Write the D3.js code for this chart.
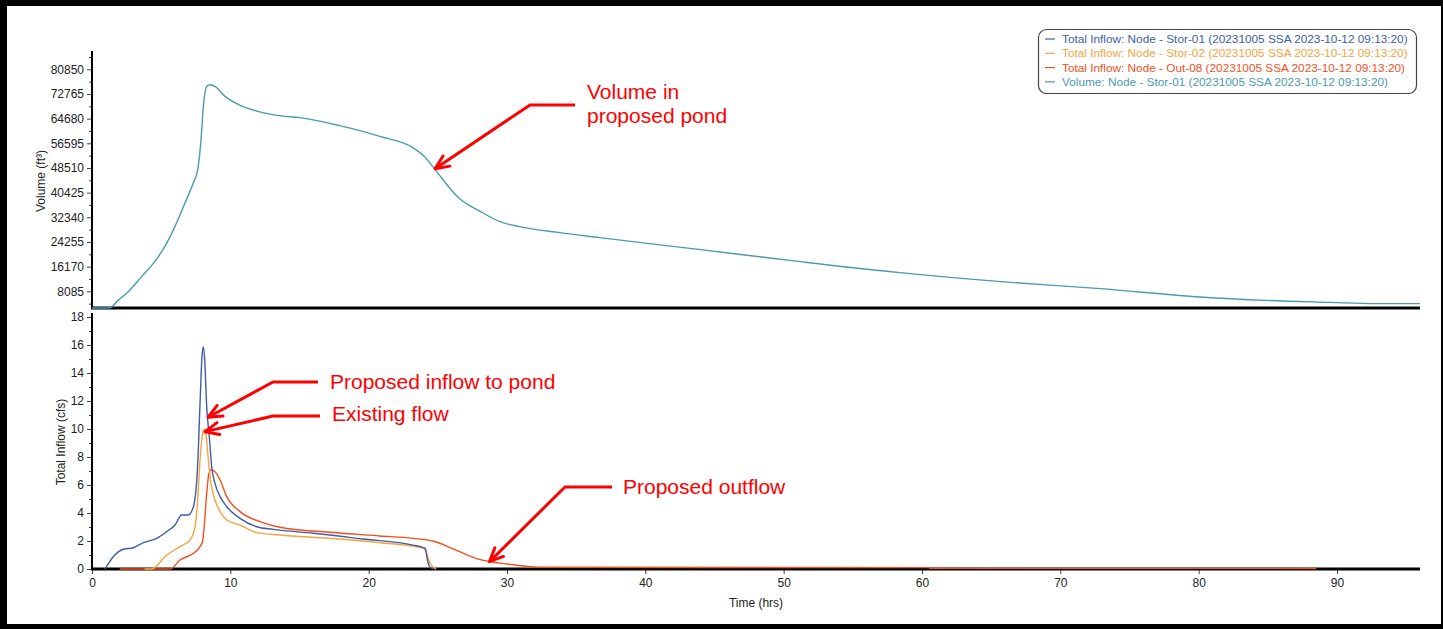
<!DOCTYPE html>
<html>
<head>
<meta charset="utf-8">
<script src="https://cdn.jsdelivr.net/npm/d3@7"></script>
<style>
  body { margin: 0; background: #fff; }
  svg text { font-family: Arial, "Liberation Sans", sans-serif; }
</style>
</head>
<body>
<svg id="chart" width="1443" height="629"></svg>
<script>
// ---- Data: [time (hrs), value] ----
const volumeStor01 = [
  [0, 0], [1.0, 1800], [1.3, 2700], [1.9, 5200], [2.6, 7870], [3.6, 12980], [4.55, 17900],
  [5.27, 22810], [6.0, 29370], [6.72, 37030], [7.32, 43590], [7.64, 47950], [7.88, 57780],
  [8.05, 68700], [8.29, 75250], [8.53, 75800], [8.89, 75250], [9.62, 71970], [10.6, 69250],
  [12.0, 67050], [13.95, 65420], [15.0, 65000], [17.9, 62370], [20.8, 58860], [23.2, 55160],
  [24.05, 52170], [24.8, 47950], [26.5, 38770], [28.1, 34180], [29.5, 30900], [30.9, 29270],
  [33.8, 27300], [36.7, 25660], [44.0, 21730], [51.2, 17800], [58.4, 14190], [65.7, 11240],
  [72.9, 8950], [80.1, 6230], [84.9, 5110], [89.5, 4460], [92.8, 4030], [96.0, 4030]
];

const inflowStor01 = [
  [0.94, 0], [1.54, 0.88], [2.27, 1.41], [2.99, 1.52], [3.71, 1.88], [4.68, 2.19], [5.4, 2.67],
  [6.0, 3.14], [6.48, 3.86], [6.96, 3.86], [7.33, 4.45], [7.62, 7.07], [7.81, 11.83],
  [7.95, 15.17], [8.05, 15.88], [8.15, 14.9], [8.29, 11.6], [8.48, 9.45], [8.65, 7.31],
  [8.89, 6.12], [9.26, 5.17], [9.74, 4.45], [10.7, 3.62], [11.9, 3.02], [13.1, 2.83],
  [16.0, 2.55], [19.6, 2.14], [23.2, 1.71], [24.1, 1.48], [24.2, 0.88], [24.4, 0.17], [24.7, 0]
];

const inflowStor02 = [
  [3.8, 0], [4.3, 0], [5.4, 1.0], [6.36, 1.6], [7.09, 2.07], [7.45, 3.02], [7.62, 4.69],
  [7.81, 7.79], [8.0, 9.69], [8.1, 9.98], [8.24, 9.57], [8.41, 7.79], [8.6, 6.12],
  [8.89, 4.93], [9.26, 4.1], [9.74, 3.5], [10.7, 3.14], [11.9, 2.6], [13.6, 2.43],
  [17.2, 2.19], [20.8, 1.88], [23.96, 1.48], [24.2, 1.11], [24.44, 0.4], [24.87, 0]
];

const inflowOut08 = [
  [2.0, 0], [5.64, 0], [6.36, 0.64], [7.33, 1.12], [7.81, 1.6], [8.0, 2.0], [8.15, 3.5],
  [8.3, 5.5], [8.45, 6.8], [8.6, 7.08], [8.89, 6.95], [9.26, 6.36], [9.74, 5.17],
  [10.7, 4.1], [12.15, 3.38], [13.6, 2.98], [17.2, 2.62], [20.8, 2.36], [23.2, 2.19],
  [24.7, 1.98], [26.2, 1.4], [27.8, 0.74], [28.8, 0.52], [30.0, 0.36], [31.2, 0.21],
  [32.5, 0.12], [60.5, 0.1], [60.6, 0.05], [88.5, 0.04]
];

const timeTicks = [0, 10, 20, 30, 40, 50, 60, 70, 80, 90];
const volumeTicks = [8085, 16170, 24255, 32340, 40425, 48510, 56595, 64680, 72765, 80850];
const flowTicks = [0, 2, 4, 6, 8, 10, 12, 14, 16, 18];

const legendEntries = [
  "Total Inflow: Node - Stor-01 (20231005 SSA 2023-10-12 09:13:20)",
  "Total Inflow: Node - Stor-02 (20231005 SSA 2023-10-12 09:13:20)",
  "Total Inflow: Node - Out-08 (20231005 SSA 2023-10-12 09:13:20)",
  "Volume: Node - Stor-01 (20231005 SSA 2023-10-12 09:13:20)"
];
const seriesColors = ["#3e5ea6", "#f6a33f", "#f2501c", "#4a9bb0"];

// ---- Layout ----
const svg = d3.select("#chart");
const W = 1443, H = 629;

// window frame
svg.append("rect").attr("width", W).attr("height", H).attr("fill", "#000");
svg.append("rect").attr("x", 7).attr("y", 6).attr("width", 1434).attr("height", 618).attr("fill", "#fff");

const x = d3.scaleLinear().domain([0, 96]).range([92, 1420]);
const yVol = d3.scaleLinear().domain([2611, 86520]).range([308, 52]).clamp(true);
const yFlow = d3.scaleLinear().domain([0, 18]).range([569, 317]);

const labelColor = "#222";

// ---- Axes ----
function styleAxis(g) {
  g.select(".domain").remove();
  g.selectAll(".tick line").attr("stroke", "#444").attr("stroke-width", 1);
  g.selectAll(".tick text").attr("fill", labelColor).attr("font-size", 12);
}

// volume axis (top panel)
const volMinor = volumeTicks.map(v => v - 8085 / 2).concat([80850 + 8085 / 2]);
svg.append("g").attr("transform", "translate(92,0)")
  .call(d3.axisLeft(yVol).tickValues(volMinor).tickSize(3).tickFormat(""))
  .call(styleAxis);
svg.append("g").attr("transform", "translate(92,0)")
  .call(d3.axisLeft(yVol).tickValues(volumeTicks).tickSize(5).tickPadding(3).tickFormat(d3.format("d")))
  .call(styleAxis);

// flow axis (bottom panel)
svg.append("g").attr("transform", "translate(92,0)")
  .call(d3.axisLeft(yFlow).tickValues(d3.range(1, 18, 2)).tickSize(3).tickFormat(""))
  .call(styleAxis);
svg.append("g").attr("transform", "translate(92,0)")
  .call(d3.axisLeft(yFlow).tickValues(flowTicks).tickSize(5).tickPadding(3))
  .call(styleAxis);

// time axis
svg.append("g").attr("transform", "translate(0,569)")
  .call(d3.axisBottom(x).tickValues(timeTicks).tickSize(5).tickPadding(4))
  .call(styleAxis);

// axis lines
svg.append("line").attr("x1", 92).attr("x2", 92).attr("y1", 51).attr("y2", 309)
  .attr("stroke", "#000").attr("stroke-width", 2);
svg.append("line").attr("x1", 92).attr("x2", 92).attr("y1", 313).attr("y2", 570)
  .attr("stroke", "#000").attr("stroke-width", 2);
svg.append("line").attr("x1", 91).attr("x2", x(96)).attr("y1", 308).attr("y2", 308)
  .attr("stroke", "#000").attr("stroke-width", 3);
svg.append("line").attr("x1", 91).attr("x2", x(96)).attr("y1", 569).attr("y2", 569)
  .attr("stroke", "#000").attr("stroke-width", 3);

// axis titles
svg.append("text").attr("transform", "translate(45,181) rotate(-90)")
  .attr("text-anchor", "middle").attr("font-size", 12).attr("fill", labelColor)
  .text("Volume (ft³)");
svg.append("text").attr("transform", "translate(65,442) rotate(-90)")
  .attr("text-anchor", "middle").attr("font-size", 12).attr("fill", labelColor)
  .text("Total Inflow (cfs)");
svg.append("text").attr("x", 756).attr("y", 607)
  .attr("text-anchor", "middle").attr("font-size", 12).attr("fill", labelColor)
  .text("Time (hrs)");

// ---- Series ----
const volLine = d3.line().curve(d3.curveMonotoneX).x(d => x(d[0])).y(d => yVol(d[1]));
const flowLine = d3.line().curve(d3.curveMonotoneX).x(d => x(d[0])).y(d => yFlow(d[1]));

svg.append("path").datum(volumeStor01).attr("d", volLine)
  .attr("fill", "none").attr("stroke", seriesColors[3]).attr("stroke-width", 1.4);

[[inflowOut08, seriesColors[2]], [inflowStor02, seriesColors[1]], [inflowStor01, seriesColors[0]]]
  .forEach(([data, color]) => {
    svg.append("path").datum(data).attr("d", flowLine)
      .attr("fill", "none").attr("stroke", color).attr("stroke-width", 1.4);
  });

// ---- Legend ----
const legend = svg.append("g");
legend.append("rect").attr("x", 1038.5).attr("y", 29.5).attr("width", 378).attr("height", 64)
  .attr("rx", 8).attr("fill", "#fff").attr("stroke", "#444").attr("stroke-width", 1.2);
legendEntries.forEach((label, i) => {
  const cy = 39 + i * 14.3;
  legend.append("line").attr("x1", 1045).attr("x2", 1055).attr("y1", cy).attr("y2", cy)
    .attr("stroke", seriesColors[i]).attr("stroke-width", 1.2);
  legend.append("text").attr("x", 1062).attr("y", cy + 4).attr("font-size", 11.8)
    .attr("fill", seriesColors[i]).text(label);
});

// ---- Callouts ----
const callouts = [
  { lines: ["Volume in", "proposed pond"], tip: [x(24.8), yVol(48270)], elbow: [530, 105], end: [575, 105], tx: 587, ty: 99 },
  { lines: ["Proposed inflow to pond"], tip: [x(8.39), yFlow(10.84)], elbow: [273, 382], end: [318, 382], tx: 330, ty: 389 },
  { lines: ["Existing flow"], tip: [x(8.17), yFlow(9.81)], elbow: [273, 416], end: [320, 416], tx: 332, ty: 421 },
  { lines: ["Proposed outflow"], tip: [x(28.73), yFlow(0.52)], elbow: [565, 487], end: [612, 487], tx: 623, ty: 494 }
];
const red = "#ff0000";
callouts.forEach(c => {
  svg.append("polyline")
    .attr("points", [c.end, c.elbow, c.tip].map(p => p.join(",")).join(" "))
    .attr("fill", "none").attr("stroke", red).attr("stroke-width", 3).attr("stroke-linejoin", "round");
  const ang = Math.atan2(c.elbow[1] - c.tip[1], c.elbow[0] - c.tip[0]);
  const len = 15, spread = 0.42;
  const a1 = [c.tip[0] + len * Math.cos(ang + spread), c.tip[1] + len * Math.sin(ang + spread)];
  const a2 = [c.tip[0] + len * Math.cos(ang - spread), c.tip[1] + len * Math.sin(ang - spread)];
  svg.append("polyline")
    .attr("points", [a1, c.tip, a2].map(p => p.join(",")).join(" "))
    .attr("fill", "none").attr("stroke", red).attr("stroke-width", 3)
    .attr("stroke-linecap", "round").attr("stroke-linejoin", "round");
  c.lines.forEach((t, i) => {
    svg.append("text").attr("x", c.tx).attr("y", c.ty + i * 24)
      .attr("font-size", 21).attr("fill", red).text(t);
  });
});
</script>
</body>
</html>
